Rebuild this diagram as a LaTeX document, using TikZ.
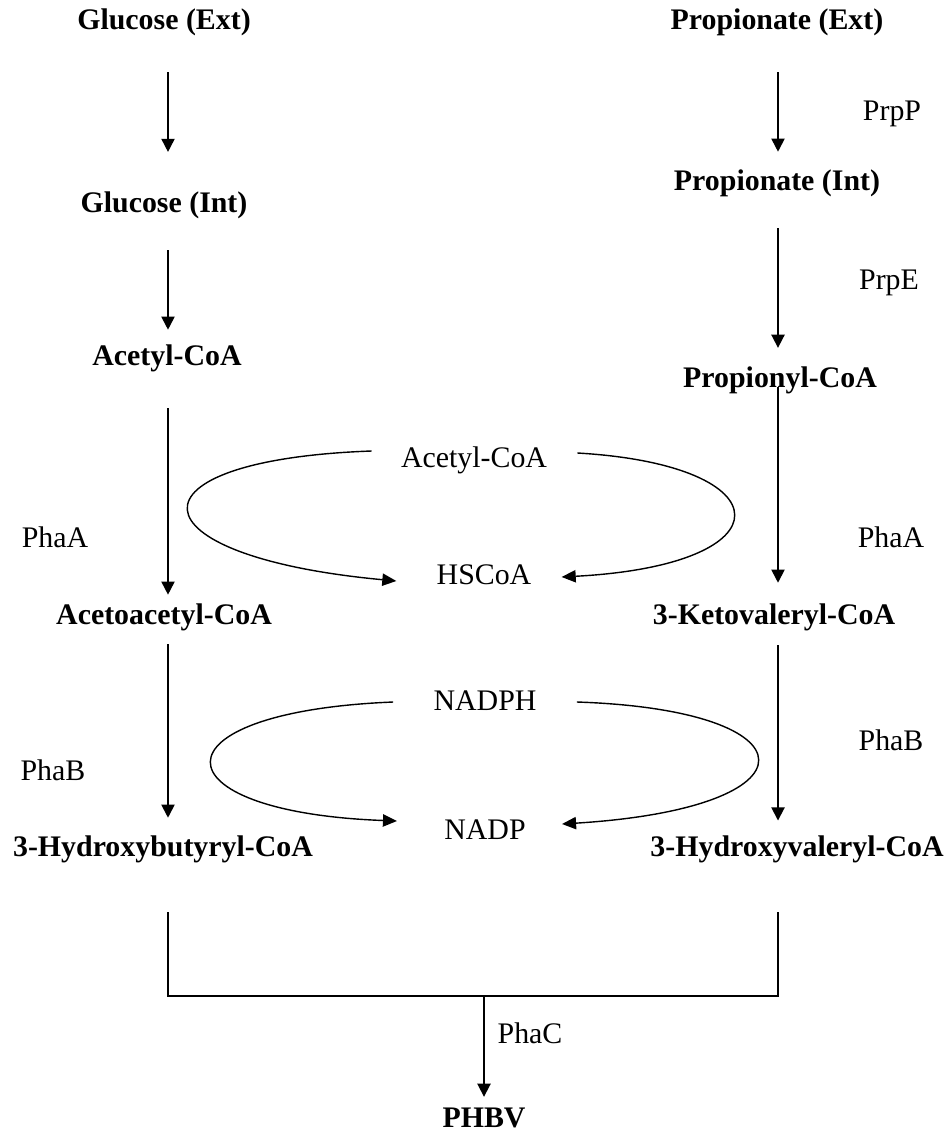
\documentclass[tikz,border=0pt]{standalone}
\usepackage{fontspec}
\setmainfont{Liberation Serif}
\usetikzlibrary{arrows.meta,calc,positioning}

\begin{document}
\begin{tikzpicture}[x=0.02cm, y=-0.02cm,
		every node/.style={inner sep=0pt, text height=12pt, text depth=4pt, font=\fontsize{17}{20}\selectfont},
		met/.style={font=\fontsize{17}{20}\selectfont\bfseries},
		flow/.style={line width=1pt, -{Triangle[width=7.5pt,length=7.5pt]}},
		cyc/.style={line width=0.8pt, -{Triangle[width=7pt,length=8pt]}},
		pipe/.style={line width=1pt}]
		\useasboundingbox (0,0) rectangle (950,1138);
		\coordinate (colL) at (168,0);
		\coordinate (colR) at (778,0);
		% glucose branch
		\node[met] (gext) at (164,22) {Glucose (Ext)};
		\node[met] (gint) at (164,205) {Glucose (Int)};
		\node[met] (acl) at (167,358) {Acetyl-CoA};
		\node[met] (aacl) at (164,617) {Acetoacetyl-CoA};
		\node[met] (hbl) at (163,849) {3-Hydroxybutyryl-CoA};
		% propionate branch
		\node[met] (pext) at (777,22) {Propionate (Ext)};
		\node[met] (pint) at (777,183) {Propionate (Int)};
		\node[met] (pcoa) at (780,380) {Propionyl-CoA};
		\node[met] (kv) at (774,617) {3-Ketovaleryl-CoA};
		\node[met] (hv) at (797,849) {3-Hydroxyvaleryl-CoA};
		\node[met] (phbv) at (484,1120) {PHBV};
		% cofactors
		\node (acm) at (474,460) {Acetyl-CoA};
		\node (hs) at (484,577) {HSCoA};
		\node (nadph) at (485,703) {NADPH};
		\node (nadp) at (485,832) {NADP};
		% enzymes
		\foreach \e/\x/\y in {PrpP/892/113, PrpE/889/282, PhaA/891/540, PhaB/891/743, PhaA/55/540, PhaB/53/773, PhaC/530/1036}
		\node at (\x,\y) {\e};
		\draw[flow, shorten <=20.3pt, shorten >=22pt] (gext.south -| colL) -- (gint.north -| colL);
		\draw[flow, shorten <=17.5pt, shorten >=7.9pt] (gint.south -| colL) -- (acl.north -| colL);
		\draw[flow, shorten <=20.3pt, shorten >=4.5pt] (acl.south -| colL) -- (aacl.north -| colL);
		\draw[flow, shorten <=7.3pt, shorten >=9.6pt] (aacl.south -| colL) -- (hbl.north -| colL);
		\draw[flow, shorten <=20.3pt, shorten >=9.6pt] (pext.south -| colR) -- (pint.north -| colR);
		\draw[flow, shorten <=17.5pt, shorten >=10.1pt] (pint.south -| colR) -- (pcoa.north -| colR);
		\draw[flow, shorten <=-4pt, shorten >=11.3pt] (pcoa.south -| colR) -- (kv.north -| colR);
		\draw[flow, shorten <=7.9pt, shorten >=8pt] (kv.south -| colR) -- (hv.north -| colR);
		% cycles
		\draw[cyc] ($(acm.west)+(-29,-9)$) .. controls (120,460) and (128,556) .. ($(hs.west)+(-40,4)$);
		\draw[cyc] ($(acm.east)+(30,-7)$) .. controls (785,465) and (790,565) .. ($(hs.east)+(30,0)$);
		\draw[cyc] ($(nadph.west)+(-40,-1)$) .. controls (148,712) and (154,812) .. ($(nadp.west)+(-47,-11)$);
		\draw[cyc] ($(nadph.east)+(40,-1)$) .. controls (817,710) and (822,808) .. ($(nadp.east)+(36,-8)$);
		% polymerisation
		\coordinate (bL) at (168,912);
		\coordinate (bR) at (778,912);
		\coordinate (jn) at (484,996);
		\draw[pipe] (bL) |- (jn) -| (bR);
		\draw[flow, shorten >=5pt] (jn) -- (phbv);
	\end{tikzpicture}
\end{document}
